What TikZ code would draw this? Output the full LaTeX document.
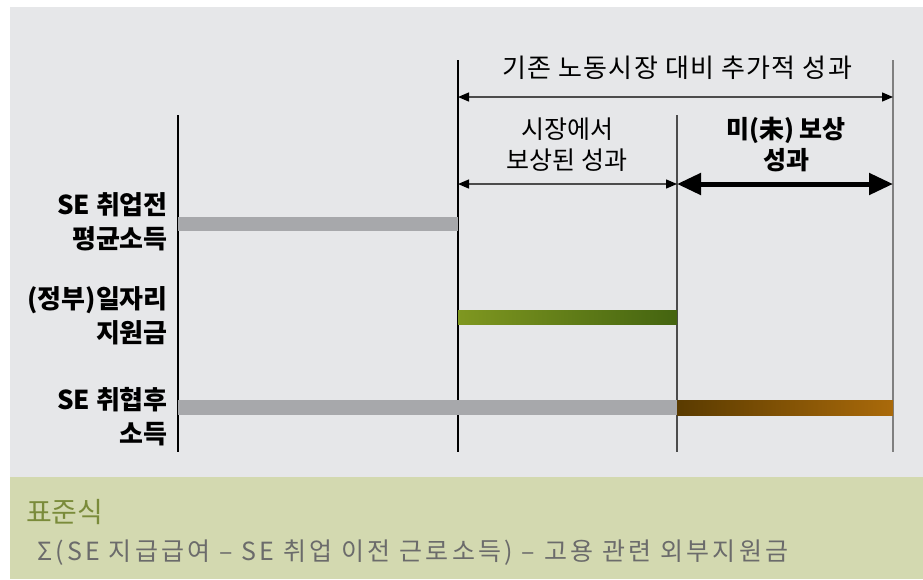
\documentclass[tikz,border=0pt]{standalone}
\usepackage{fontspec}
\setmainfont{Noto Sans CJK KR}
\usetikzlibrary{arrows.meta,positioning}

\definecolor{panelgray}{HTML}{E6E7E9}
\definecolor{panelgreen}{HTML}{D3D9B0}
\definecolor{bargray}{HTML}{A7A8AB}
\definecolor{subsidyL}{HTML}{7F9720}
\definecolor{subsidyR}{HTML}{446410}
\definecolor{extraL}{HTML}{5A3B00}
\definecolor{extraR}{HTML}{AA6A0A}
\definecolor{formulatitle}{HTML}{7A8B3A}
\definecolor{formulatext}{HTML}{6B6B6B}

\begin{document}
\begin{tikzpicture}[x=1pt, y=-1pt,
    rowlabel/.style={font=\bfseries\fontsize{26}{34}\selectfont, align=right, anchor=east, inner sep=0pt},
    spanlabel/.style={font=\fontsize{25}{31}\selectfont, align=center, inner sep=0pt},
    thinspan/.style={draw=black!70, line width=1.3pt, {Triangle[length=11pt,width=9pt,color=black]}-{Triangle[length=11pt,width=9pt,color=black]}},
    thickspan/.style={draw=black, line width=5pt, {Triangle[length=24pt,width=21pt]}-{Triangle[length=24pt,width=21pt]}},]
    \useasboundingbox (0,0) rectangle (923,579);
    % panels
    \fill[white] (0,0) rectangle (923,579);
    \fill[panelgray] (10,7) rectangle (923,477);
    \fill[panelgreen] (10,477) rectangle (923,579);

    % guide lines
    \coordinate (a-top) at (178,115); \coordinate (a-bot) at (178,452);
    \coordinate (b-top) at (458,60);  \coordinate (b-bot) at (458,452);
    \coordinate (c-top) at (677,115); \coordinate (c-bot) at (677,452);
    \coordinate (d-top) at (893,60);  \coordinate (d-bot) at (893,452);
    \draw[line width=1.2pt] (a-top) -- (a-bot);
    \draw[line width=1.2pt] (b-top) -- (b-bot);
    \draw[line width=1.2pt, black!70] (c-top) -- (c-bot);
    \draw[line width=1.4pt, black!50] (d-top) -- (d-bot);

    % spans
    \coordinate (total-l) at (458,97);  \coordinate (total-r) at (893,97);
    \coordinate (paid-l) at (458,184);  \coordinate (paid-r) at (677,184);
    \coordinate (unpaid-l) at (677,184); \coordinate (unpaid-r) at (893,184);
    \node[spanlabel, font=\addfontfeature{LetterSpace=5}\fontsize{26}{31}\selectfont] (total) at (677,68) {기존 노동시장 대비 추가적 성과};
    \node[spanlabel] (paid) at (567,145) {시장에서\\보상된 성과};
    \node[spanlabel, font=\bfseries\fontsize{25}{31}\selectfont] (unpaid) at (786,145) {미(未) 보상\\성과};
    \draw[thinspan] (total-l) -- (total-r);
    \draw[thinspan] (paid-l) -- (paid-r);
    \draw[thickspan] (unpaid-l) -- (unpaid-r);

    % bars
    \fill[bargray] (178,217) rectangle (458,231);
    \fill[left color=subsidyL, right color=subsidyR] (458,310) rectangle (677,324);
    \fill[bargray] (178,400) rectangle (677,415);
    \fill[left color=extraL, right color=extraR] (677,400) rectangle (893,415);

    % row labels
    \node[rowlabel] (before) at (168,222) {SE 취업전\\평균소득};
    \node[rowlabel] (subsidy) at (168,316) {(정부)일자리\\지원금};
    \node[rowlabel] (after) at (168,417) {SE 취협후\\소득};

    % formula
    \node[anchor=west, inner sep=0pt, text=formulatitle, font=\fontsize{28}{30}\selectfont] (ftitle) at (26,512) {표준식};
    \node[anchor=west, inner sep=0pt, text=formulatext, font=\addfontfeature{LetterSpace=13}\fontsize{25}{28}\selectfont] (formula) at (37,553) {Σ(SE 지급급여 – SE 취업 이전 근로소득) – 고용 관련 외부지원금};
\end{tikzpicture}
\end{document}
